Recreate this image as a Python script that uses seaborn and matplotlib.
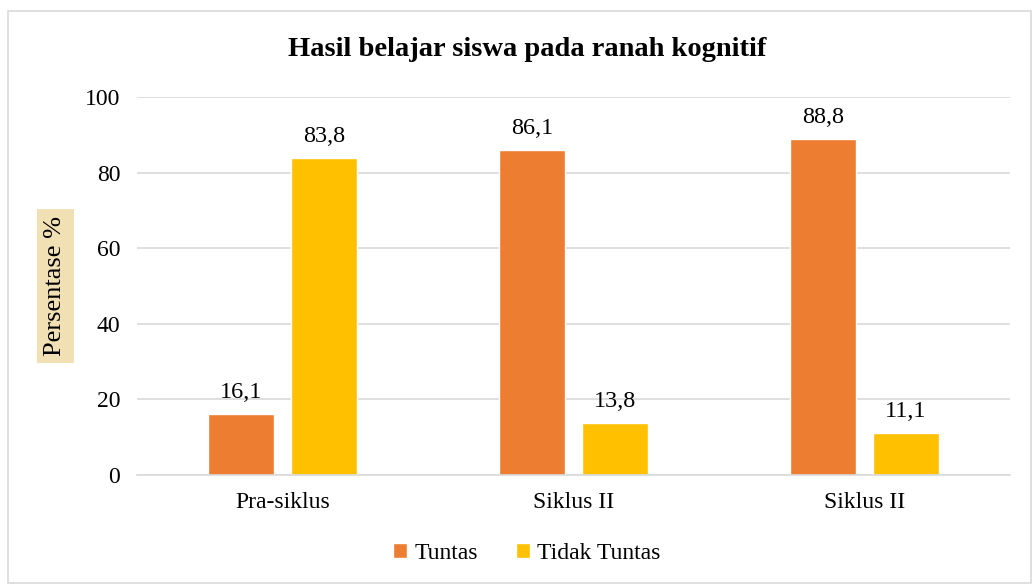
import matplotlib
matplotlib.use("Agg")
import matplotlib.pyplot as plt
import seaborn as sns
import pandas as pd
from matplotlib.patches import Rectangle

# data
cycles = ["Pra-siklus", "Siklus I", "Siklus II"]
tick_labels = ["Pra-siklus", "Siklus II", "Siklus II"]
tuntas = [16.1, 86.1, 88.8]
tidak_tuntas = [83.8, 13.8, 11.1]
series = ["Tuntas", "Tidak Tuntas"]
colors = ["#ED7D31", "#FFC000"]

df = pd.DataFrame({
    "siklus": cycles * 2,
    "status": [series[0]] * 3 + [series[1]] * 3,
    "nilai": tuntas + tidak_tuntas,
})

sns.set_style("white")
plt.rcParams["font.family"] = ["Liberation Serif", "DejaVu Serif"]
plt.rcParams["text.color"] = "black"
plt.rcParams["xtick.color"] = "black"
plt.rcParams["ytick.color"] = "black"

fig = plt.figure(figsize=(10.33, 5.85), dpi=100)
ax = fig.add_axes([0.1326, 0.188, 0.845, 0.646])

sns.barplot(data=df, x="siklus", y="nilai", hue="status", order=cycles,
            hue_order=series, palette=colors, width=0.572, gap=0.21,
            saturation=1, errorbar=None, ax=ax, legend=True)

for cont in ax.containers:
    ax.bar_label(cont, labels=[f"{v:.1f}".replace(".", ",") for v in cont.datavalues],
                 padding=8, fontsize=17.5, color="black")

ax.set_ylim(0, 100)
ax.set_xlim(-0.5, 2.5)
ax.set_yticks(range(0, 101, 20))
ax.yaxis.grid(True, color="#D9D9D9", linewidth=1.2)
ax.set_axisbelow(True)
for s in ["top", "right", "left"]:
    ax.spines[s].set_visible(False)
ax.spines["bottom"].set_color("#D9D9D9")
ax.spines["bottom"].set_linewidth(1.2)
ax.tick_params(axis="both", length=0, labelsize=17, pad=12)
ax.set_xticks(range(3))
ax.set_xticklabels(tick_labels)
ax.set_xlabel("")
ax.set_ylabel("")

fig.text(0.0536, 0.511, "Persentase %", rotation=90, ha="center", va="center",
         fontsize=19, color="black",
         bbox=dict(boxstyle="square,pad=0.28", facecolor="#F1E0B4", edgecolor="none"))

fig.text(0.51, 0.915, "Hasil belajar siswa pada ranah kognitif", ha="center",
         va="center", fontsize=20.5, fontweight="bold", color="black")

handles, labels = ax.get_legend_handles_labels()
ax.legend_.remove()
fig.legend(handles, labels, loc="center", bbox_to_anchor=(0.51, 0.054), ncol=2,
           frameon=False, fontsize=17, handlelength=0.6, handleheight=0.6,
           handletextpad=0.3, columnspacing=1.6)

fig.patches.append(Rectangle((0.008, 0.004), 0.99, 0.978, transform=fig.transFigure,
                             fill=False, edgecolor="#D9D9D9", linewidth=1.2))

fig.savefig("out.png", dpi=100)
